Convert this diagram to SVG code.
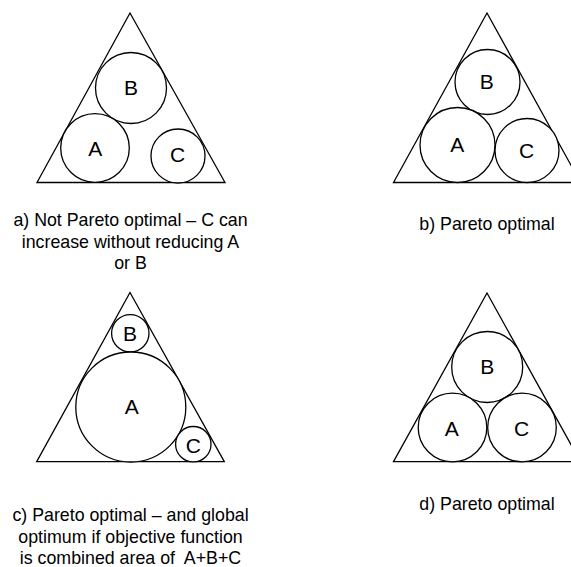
<svg xmlns="http://www.w3.org/2000/svg" width="571" height="567" viewBox="0 0 571 567">
<style>
.tri{fill:none;stroke:#000;stroke-width:1.3;stroke-linejoin:miter}
.c{fill:#fff;stroke:#000;stroke-width:1.3}
.lbl{font-family:"Liberation Sans",Arial,sans-serif;font-size:21px;fill:#000;text-anchor:middle}
.cap{font-family:"Liberation Sans",Arial,sans-serif;font-size:17.8px;fill:#000;text-anchor:middle}
</style>
<rect width="571" height="567" fill="#fff"/>
<g id="panel-a">
  <polygon class="tri" points="130,13 37,182.5 225,182.5"/>
  <g id="a-B"><circle class="c" cx="131" cy="88" r="35.5"/><text class="lbl" x="131" y="94.5">B</text></g>
  <g id="a-A"><circle class="c" cx="95" cy="148" r="34.3"/><text class="lbl" x="95.3" y="155.5">A</text></g>
  <g id="a-C"><circle class="c" cx="178" cy="156" r="27"/><text class="lbl" x="177.7" y="161.5">C</text></g>
  <text class="cap" x="130.5" y="226">a) Not Pareto optimal – C can</text>
  <text class="cap" x="130.5" y="247.7">increase without reducing A</text>
  <text class="cap" x="130.5" y="269.3">or B</text>
</g>
<g id="panel-b">
  <polygon class="tri" points="487,13 393.5,182.5 580.5,182.5"/>
  <g id="b-B"><circle class="c" cx="487.5" cy="82" r="32.5"/><text class="lbl" x="486.7" y="89.2">B</text></g>
  <g id="b-A"><circle class="c" cx="457.5" cy="145" r="37.5"/><text class="lbl" x="457.3" y="151.8">A</text></g>
  <g id="b-C"><circle class="c" cx="527" cy="150.5" r="32"/><text class="lbl" x="526.7" y="157.5">C</text></g>
  <text class="cap" x="487" y="229.5">b) Pareto optimal</text>
</g>
<g id="panel-c">
  <polygon class="tri" points="130,292.5 36.7,461.7 224.3,461.7"/>
  <g id="c-B"><circle class="c" cx="130.3" cy="333.3" r="18.7"/><text class="lbl" x="130" y="340.8">B</text></g>
  <g id="c-A"><circle class="c" cx="130.8" cy="407" r="55"/><text class="lbl" x="131.7" y="414.2">A</text></g>
  <g id="c-C"><circle class="c" cx="193.3" cy="444.2" r="17.7"/><text class="lbl" x="193.3" y="452.5">C</text></g>
  <text class="cap" x="130.5" y="521">c) Pareto optimal – and global</text>
  <text class="cap" x="130.5" y="542.5">optimum if objective function</text>
  <text class="cap" x="130.5" y="564" xml:space="preserve">is combined area of  A+B+C</text>
</g>
<g id="panel-d">
  <polygon class="tri" points="487,293 393.5,461.7 580.5,461.7"/>
  <g id="d-B"><circle class="c" cx="487.2" cy="367" r="35.5"/><text class="lbl" x="487.3" y="374.2">B</text></g>
  <g id="d-A"><circle class="c" cx="452.5" cy="427.5" r="34.3"/><text class="lbl" x="451.7" y="435.8">A</text></g>
  <g id="d-C"><circle class="c" cx="522" cy="427.5" r="34.3"/><text class="lbl" x="521.7" y="435.8">C</text></g>
  <text class="cap" x="487" y="509.5">d) Pareto optimal</text>
</g>
<g id="connectors"/>
</svg>
